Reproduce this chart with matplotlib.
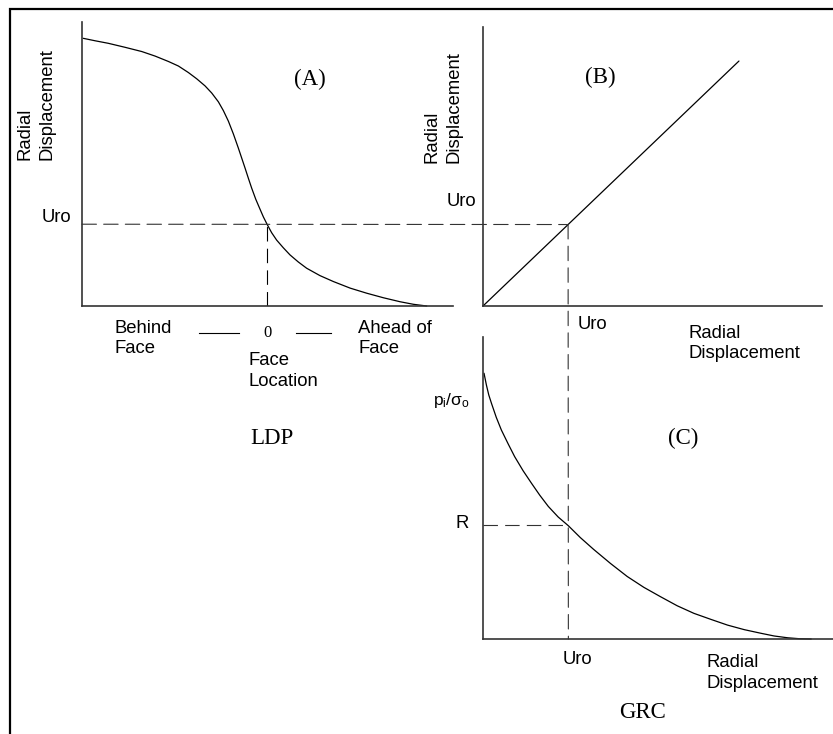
import matplotlib
matplotlib.use("Agg")
import matplotlib.pyplot as plt
from matplotlib.patches import ConnectionPatch, Rectangle
from matplotlib.lines import Line2D

plt.rcParams['mathtext.fontset'] = 'custom'
plt.rcParams['mathtext.rm'] = 'Liberation Sans'
plt.rcParams['mathtext.it'] = 'Liberation Sans'

# ---------------- data ----------------
# (A) Longitudinal displacement profile: distance from face vs radial displacement
ldp_x = [-0.993, -0.930, -0.858, -0.768, -0.677, -0.605, -0.533, -0.479, -0.425,
         -0.380, -0.335, -0.299, -0.263, -0.236, -0.209, -0.182, -0.155, -0.137,
         -0.119, -0.101, -0.083, -0.061, -0.038, -0.020, 0.0, 0.025, 0.052, 0.088,
         0.124, 0.169, 0.214, 0.286, 0.359, 0.449, 0.539, 0.629, 0.719, 0.791, 0.863]
ldp_y = [0.9425, 0.934, 0.925, 0.911, 0.896, 0.880, 0.861, 0.845, 0.822,
         0.800, 0.775, 0.750, 0.719, 0.688, 0.651, 0.606, 0.556, 0.521,
         0.486, 0.450, 0.415, 0.376, 0.341, 0.314, 0.288, 0.258, 0.232, 0.205,
         0.180, 0.155, 0.133, 0.107, 0.086, 0.063, 0.045, 0.029, 0.015, 0.006, 0.0]
face_x = 0.0
uro_a = 0.288

# (B) transfer line radial displacement vs radial displacement
b_x = [0.0, 0.755]
b_y = [0.0, 0.878]
uro_b_x = 0.251
uro_b_y = 0.292

# (C) Ground reaction curve: radial displacement vs p_i/sigma_o
grc_x = [0.003, 0.010, 0.017, 0.025, 0.039, 0.054, 0.074, 0.093, 0.118, 0.143,
         0.167, 0.192, 0.221, 0.251, 0.286, 0.325, 0.375, 0.424, 0.473, 0.522,
         0.571, 0.620, 0.670, 0.719, 0.768, 0.817, 0.856, 0.896, 0.930, 0.965]
grc_y = [0.880, 0.841, 0.808, 0.780, 0.734, 0.692, 0.646, 0.604, 0.557, 0.515,
         0.476, 0.439, 0.404, 0.375, 0.336, 0.297, 0.250, 0.207, 0.171, 0.140,
         0.110, 0.085, 0.065, 0.046, 0.031, 0.019, 0.010, 0.004, 0.001, 0.0]
uro_c = 0.251
r_c = 0.376

W, H = 833, 734
fig = plt.figure(figsize=(W / 100, H / 100), dpi=100)


def box(x0, x1, y0, y1):
    return [x0 / W, 1 - y1 / H, (x1 - x0) / W, (y1 - y0) / H]


def P(x, y):
    return (x / W, 1 - y / H)


SANS = 'Liberation Sans'
SERIF = 'Liberation Serif'
FS = 13.3
FSERIF = 16.5
AXC = '#333333'
DASH = (0, (13, 6.5))

axA = fig.add_axes(box(82, 453, 22, 306))
axB = fig.add_axes(box(483, 822, 27, 306))
axC = fig.add_axes(box(483, 834, 337, 639))

for ax in (axA, axB, axC):
    ax.set_facecolor('none')
    for s in ('top', 'right'):
        ax.spines[s].set_visible(False)
    for s in ('left', 'bottom'):
        ax.spines[s].set_color(AXC)
        ax.spines[s].set_linewidth(1.2)
    ax.set_xticks([])
    ax.set_yticks([])
    ax.set_ylim(0, 1)

axA.set_xlim(-1.0, 1.005)
axB.set_xlim(0, 1)
axC.set_xlim(0, 1.032)

for ax, xs, ys in ((axA, ldp_x, ldp_y), (axB, b_x, b_y), (axC, grc_x, grc_y)):
    ax.plot(xs, ys, color='black', lw=0.9, clip_on=False,
            solid_joinstyle='round', solid_capstyle='round')

# dashed construction lines
axA.plot([face_x, face_x], [0, uro_a], color='black', lw=0.8, ls=DASH)
axC.plot([0, uro_c], [r_c, r_c], color=AXC, lw=0.8, ls=DASH)
con1 = ConnectionPatch(xyA=(axA.get_xlim()[0], uro_a), coordsA=axA.transData,
                       xyB=(uro_b_x, uro_b_y), coordsB=axB.transData,
                       color=AXC, lw=0.8, linestyle=DASH)
fig.add_artist(con1)
con2 = ConnectionPatch(xyA=(uro_b_x, uro_b_y), coordsA=axB.transData,
                       xyB=(uro_c, 0), coordsB=axC.transData,
                       color=AXC, lw=0.8, linestyle=DASH)
fig.add_artist(con2)

# outer frame
fig.add_artist(Rectangle(P(10, 745), 1.2, (745 - 9) / H, transform=fig.transFigure,
                         fill=False, lw=1.6, edgecolor='black', clip_on=False))

# ---------------- texts ----------------
def t(x, y, s, fam=SANS, size=FS, **kw):
    fig.text(*P(x, y), s, family=fam, fontsize=size, **kw)

LS_ROT = 1.38
LS_H = 1.3

# panel A
t(36, 160, 'Radial\nDisplacement', rotation=90, ha='center', va='bottom',
  multialignment='left', linespacing=LS_ROT)
t(71, 218, 'Uro', ha='right', va='center')
t(310, 79, '(A)', fam=SERIF, size=FSERIF, ha='center', va='center')
t(114, 338.5, 'Behind\nFace', ha='left', va='center', linespacing=LS_H)
t(358, 338.5, 'Ahead of\nFace', ha='left', va='center', linespacing=LS_H)
t(267, 333, '0', fam=SERIF, size=12, ha='center', va='center')
t(249, 371, 'Face\nLocation', ha='left', va='center', linespacing=LS_H)
t(272, 439, 'LDP', fam=SERIF, size=FSERIF, ha='center', va='center')
fig.add_artist(Line2D([199 / W, 239 / W], [1 - 333 / H] * 2, color='black', lw=0.8))
fig.add_artist(Line2D([296 / W, 331 / W], [1 - 333 / H] * 2, color='black', lw=0.8))

# panel B
t(443, 163, 'Radial\nDisplacement', rotation=90, ha='center', va='bottom',
  multialignment='left', linespacing=LS_ROT)
t(476, 202, 'Uro', ha='right', va='center')
t(600, 77, '(B)', fam=SERIF, size=FSERIF, ha='center', va='center')
t(578, 325, 'Uro', ha='left', va='center')
t(688, 343.5, 'Radial\nDisplacement', ha='left', va='center', linespacing=LS_H)

# panel C
t(470, 401, r'$\mathregular{p_i/\sigma_o}$', ha='right', va='center', size=12.5)
t(469, 524, 'R', ha='right', va='center')
t(683, 438, '(C)', fam=SERIF, size=FSERIF, ha='center', va='center')
t(577, 660, 'Uro', ha='center', va='center')
t(707, 673, 'Radial\nDisplacement', ha='left', va='center', linespacing=LS_H)
t(642, 713, 'GRC', fam=SERIF, size=FSERIF, ha='center', va='center')

fig.savefig('out.png', dpi=100)
